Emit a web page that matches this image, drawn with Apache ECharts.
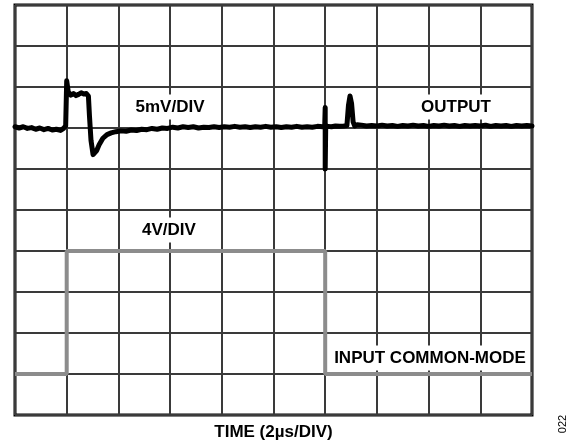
<!DOCTYPE html>
<html>
<head>
<meta charset="utf-8">
<script src="https://cdn.jsdelivr.net/npm/echarts@6/dist/echarts.min.js"></script>
<style>
html,body{margin:0;padding:0;background:#fff;}
#chart{width:572px;height:446px;}
</style>
</head>
<body>
<div id="chart"></div>
<script>
// Units: oscilloscope divisions (x: 0..10 div of 2 µs, y: 0..10 div)
var outputTime = [0.00,0.08,0.16,0.24,0.32,0.40,0.48,0.56,0.64,0.72,0.80,0.88,0.94,0.98,
  1.00,1.03,1.08,1.13,1.18,1.23,1.28,1.33,1.38,1.42,1.44,1.47,1.51,1.54,1.58,1.63,1.70,1.78,1.86,1.95,
  2.05,2.15,2.25,2.35,2.45,2.55,2.65,2.75,2.85,2.95,3.05,3.15,3.25,3.35,3.45,3.55,3.65,3.75,3.85,3.95,
  4.05,4.15,4.25,4.35,4.45,4.55,4.65,4.75,4.85,4.95,5.05,5.15,5.25,5.35,5.45,5.55,5.65,5.75,5.85,5.95,5.99,
  6.00,6.00,6.01,6.05,6.12,6.20,6.28,6.36,6.42,6.45,6.48,6.51,6.54,6.57,6.62,6.70,6.80,6.90,
  7.00,7.10,7.20,7.30,7.40,7.50,7.60,7.70,7.80,7.90,8.00,8.10,8.20,8.30,8.40,8.50,8.60,8.70,8.80,8.90,
  9.00,9.10,9.20,9.30,9.40,9.50,9.60,9.70,9.80,9.90,10.00];
var outputLevel = [7.03,7.00,7.03,6.99,7.01,6.97,7.00,6.96,6.99,6.95,6.97,6.94,6.99,7.05,
  8.15,7.88,7.80,7.84,7.79,7.82,7.86,7.83,7.84,7.78,7.30,6.70,6.35,6.32,6.45,6.60,6.75,6.84,6.88,6.91,
  6.93,6.92,6.95,6.94,6.97,6.96,6.99,6.97,7.00,6.99,7.02,7.00,7.03,7.01,7.03,7.00,7.02,7.01,7.03,7.01,
  7.03,7.02,7.04,7.02,7.03,7.01,7.03,7.02,7.04,7.02,7.03,7.01,7.03,7.02,7.04,7.02,7.03,7.02,7.04,7.03,7.03,
  7.50,6.00,7.03,7.04,7.03,7.05,7.04,7.05,7.06,7.55,7.78,7.60,7.15,7.05,7.08,7.07,7.05,7.06,
  7.05,7.07,7.05,7.06,7.04,7.06,7.05,7.07,7.05,7.06,7.04,7.06,7.05,7.07,7.05,7.06,7.04,7.06,7.05,7.06,
  7.05,7.07,7.04,7.06,7.05,7.06,7.04,7.06,7.05,7.06,7.05];
var inputTime = [0, 1, 1, 6, 6, 10];
var inputLevel = [1, 1, 4, 4, 1, 1];
var xTitle = 'TIME (2µs/DIV)';

function pairs(xs, ys){ return xs.map(function(x,i){ return [x, ys[i]]; }); }

var font = '"Liberation Sans", Arial, sans-serif';
function label(text, x, y){
  return {type:'text', x:x, y:y, z:100,
    style:{text:text, fill:'#000', font:'bold 17px ' + font, align:'center', verticalAlign:'middle',
      backgroundColor:'#fff', padding:[4,4,4,4]}};
}

var chart = echarts.init(document.getElementById('chart'), null, {renderer:'canvas'});
chart.setOption({
  animation:false,
  backgroundColor:'#fff',
  grid:{left:15, right:40, top:5, bottom:28, show:true, borderColor:'#000', borderWidth:3, backgroundColor:'#fff'},
  xAxis:{type:'value', min:0, max:10, interval:1,
    axisLine:{show:false}, axisTick:{show:false}, axisLabel:{show:false},
    splitLine:{show:true, lineStyle:{color:'#3a3a3a', width:2}},
    name:xTitle, nameLocation:'middle', nameGap:9,
    nameTextStyle:{fontFamily:font, fontWeight:'bold', fontSize:17, color:'#000'}},
  yAxis:{type:'value', min:0, max:10, interval:1,
    axisLine:{show:false}, axisTick:{show:false}, axisLabel:{show:false},
    splitLine:{show:true, lineStyle:{color:'#3a3a3a', width:2}}},
  series:[
    {type:'line', data:pairs(inputTime, inputLevel), showSymbol:false, symbol:'none',
      lineStyle:{color:'#8c8c8c', width:4}, z:3},
    {type:'line', data:pairs(outputTime, outputLevel), showSymbol:false, symbol:'none',
      lineStyle:{color:'#000', width:5, join:'round', cap:'round'}, z:4}
  ],
  graphic:[
    label('5mV/DIV', 170, 107),
    label('OUTPUT', 456, 107),
    label('4V/DIV', 169, 230),
    label('INPUT COMMON-MODE', 430, 358),
    {type:'text', x:563, y:424, rotation:Math.PI/2, z:100,
      style:{text:'022', fill:'#000', font:'11px ' + font, align:'center', verticalAlign:'middle'}}
  ]
});
</script>
</body>
</html>
